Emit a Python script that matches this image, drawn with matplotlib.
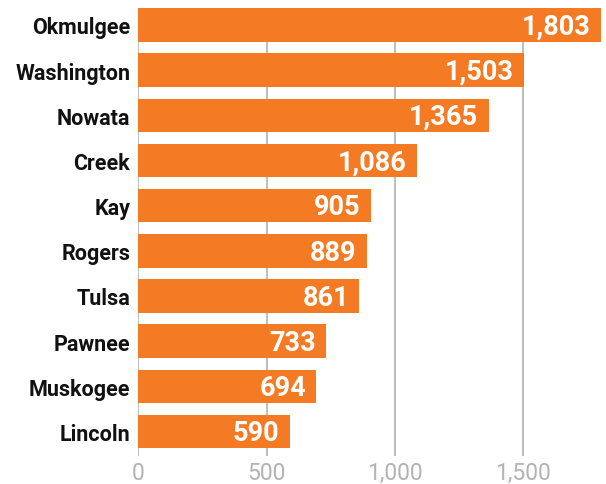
import matplotlib
matplotlib.use('Agg')
import matplotlib.pyplot as plt

# Daten
counties = ['Okmulgee', 'Washington', 'Nowata', 'Creek', 'Kay', 'Rogers', 'Tulsa', 'Pawnee', 'Muskogee', 'Lincoln']
values = [1803, 1503, 1365, 1086, 905, 889, 861, 733, 694, 590]
ticks = [0, 500, 1000, 1500]
tick_labels = ['0', '500', '1,000', '1,500']

plt.rcParams['font.family'] = ['Roboto', 'DejaVu Sans']

fig = plt.figure(figsize=(6.06, 4.85), dpi=100)
ax = fig.add_axes([0.2285, 0.058, 0.767, 0.923])

pos = list(range(len(counties)))
ax.barh(pos, values, height=0.74, color='#F47B24', zorder=2)

# Werte in die Balken schreiben
for y, v in zip(pos, values):
    ax.text(v - 40, y + 0.03, f'{v:,}', ha='right', va='center', color='white',
            fontsize=19.5, fontweight='bold', zorder=3)

ax.set_ylim(len(counties) - 1 + 0.54, -0.37)
ax.set_xlim(0, 1812)
ax.set_yticks(pos)
ax.set_yticklabels(counties, fontsize=15.5, fontweight='bold', color='#111111')
ax.set_xticks(ticks)
ax.set_xticklabels(tick_labels, fontsize=16.5, color='#b3b3b3')
ax.tick_params(axis='y', length=0, pad=6)
ax.tick_params(axis='x', length=0, pad=4)

ax.grid(axis='x', color='#bfbfbf', linewidth=1.5, zorder=1)
for s in ax.spines.values():
    s.set_visible(False)

plt.savefig('out.png', dpi=100)
